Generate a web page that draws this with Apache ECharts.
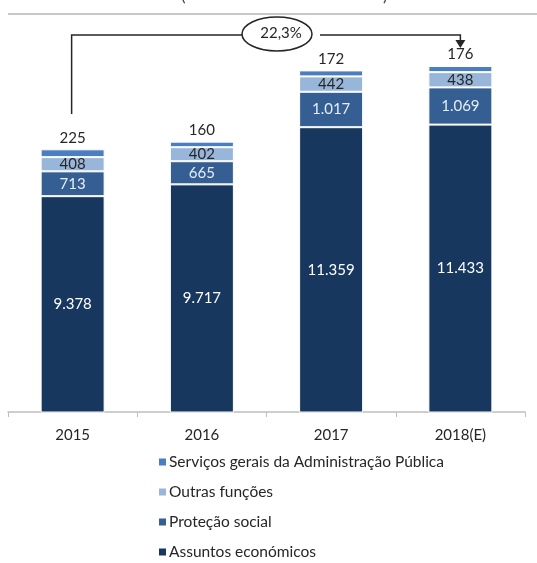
<!DOCTYPE html>
<html lang="pt">
<head>
    <meta charset="UTF-8">
    <title>Despesa</title>
    <style>
        html, body { margin: 0; padding: 0; background: #fff; }
    </style>
</head>
<body>
<div id="main" style="width: 537px;height:563px;"></div>
<script src="https://cdn.jsdelivr.net/npm/echarts@6/dist/echarts.min.js"></script>
<script>
    // dados do gráfico
    var anos = ['2015', '2016', '2017', '2018(E)'];
    var assuntosEconomicos = [9378, 9717, 11359, 11433];
    var protecaoSocial = [713, 665, 1017, 1069];
    var outrasFuncoes = [408, 402, 442, 438];
    var servicosGerais = [225, 160, 172, 176];
    var variacao = '22,3%';

    var nomes = ['Assuntos económicos', 'Proteção social', 'Outras funções', 'Serviços gerais da Administração Pública'];
    var cores = ['#17375e', '#355f93', '#98b5da', '#4a7ec0'];

    var fonte = 'Lato, "Open Sans", sans-serif';

    function fmt(v) {
        return String(v).replace(/\B(?=(\d{3})+(?!\d))/g, '.');
    }

    var myChart = echarts.init(document.getElementById('main'));

    function serie(i, dados, label) {
        return {
            name: nomes[i],
            type: 'bar',
            stack: 'total',
            barWidth: 64,
            data: dados,
            itemStyle: { color: cores[i], borderColor: '#ffffff', borderWidth: 1 },
            label: label
        };
    }

    var option = {
        animation: false,
        textStyle: { fontFamily: fonte },
        grid: { left: 8, right: 12, top: 30, bottom: 151 },
        xAxis: {
            type: 'category',
            data: anos,
            axisLine: { lineStyle: { color: '#bfbfbf', width: 1.5 } },
            axisTick: { show: true, length: 5, lineStyle: { color: '#bfbfbf' } },
            axisLabel: { color: '#262626', fontSize: 15, margin: 16, fontFamily: fonte }
        },
        yAxis: {
            type: 'value',
            min: 3180,
            max: 14150,
            show: false,
            splitLine: { show: false }
        },
        legend: {
            orient: 'vertical',
            left: 157,
            top: 454,
            padding: 0,
            itemWidth: 9,
            itemHeight: 9,
            itemGap: 14,
            icon: 'rect',
            data: [nomes[3], nomes[2], nomes[1], nomes[0]],
            textStyle: { fontSize: 15.5, lineHeight: 16, color: '#262626', fontFamily: fonte, padding: [0, 0, 0, -3] }
        },
        series: [
            serie(0, assuntosEconomicos, {
                show: true, position: 'inside', color: '#ffffff', fontSize: 15, fontFamily: fonte,
                formatter: function (p) { return fmt(p.value); }
            }),
            serie(1, protecaoSocial, {
                show: true, position: 'inside', color: '#e6edf6', fontSize: 15, fontFamily: fonte,
                formatter: function (p) { return fmt(p.value); }
            }),
            serie(2, outrasFuncoes, {
                show: true, position: 'inside', color: '#262626', fontSize: 15, fontFamily: fonte,
                formatter: function (p) { return fmt(p.value); }
            }),
            serie(3, servicosGerais, {
                show: true, position: 'top', distance: 4, color: '#262626', fontSize: 15, fontFamily: fonte,
                formatter: function (p) { return fmt(p.value); }
            })
        ]
    };
    myChart.setOption(option);

    // seta de variação entre 2015 e 2018(E)
    var x0 = myChart.convertToPixel({ xAxisIndex: 0 }, anos[0]) - 1;
    var x1 = myChart.convertToPixel({ xAxisIndex: 0 }, anos[3]);
    var yL = 35;
    var cx = 277, cy = 34;

    myChart.setOption({
        graphic: [
            // linha cinzenta do topo e título cortado
            { type: 'line', shape: { x1: 8, y1: 14, x2: 537, y2: 14 }, style: { stroke: '#c8c8c8', lineWidth: 2 } },
            { type: 'text', x: 181, y: -13, style: { text: '(', fontSize: 17, fill: '#404040', fontFamily: fonte } },
            { type: 'text', x: 383, y: -13, style: { text: ')', fontSize: 17, fill: '#404040', fontFamily: fonte } },
            { type: 'polyline', shape: { points: [[x0, 114], [x0, yL], [cx - 35, yL]] }, style: { stroke: '#262626', lineWidth: 1.5, fill: null } },
            { type: 'ellipse', shape: { cx: cx, cy: cy, rx: 35, ry: 17 }, style: { stroke: '#262626', lineWidth: 1.5, fill: '#fff' } },
            { type: 'text', x: cx + 4, y: cy - 1, style: { text: variacao, fontSize: 15, fill: '#262626', align: 'center', verticalAlign: 'middle', fontFamily: fonte } },
            { type: 'polyline', shape: { points: [[cx + 43, yL], [x1, yL], [x1, 40]] }, style: { stroke: '#262626', lineWidth: 1.5, fill: null } },
            { type: 'polygon', shape: { points: [[x1 - 5, 40], [x1 + 5, 40], [x1, 48]] }, style: { fill: '#262626' } }
        ]
    });
</script>
</body>
</html>
